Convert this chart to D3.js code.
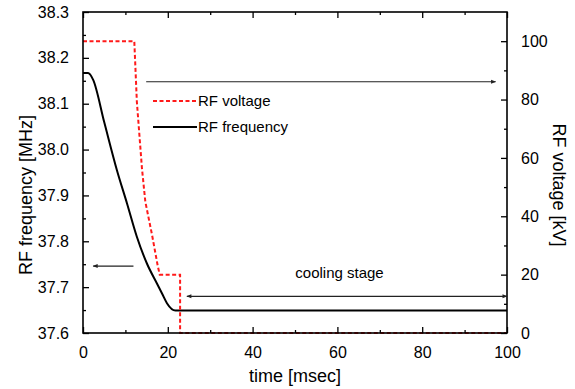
<!DOCTYPE html>
<html>
<head>
<meta charset="utf-8">
<script src="https://cdn.jsdelivr.net/npm/d3@7"></script>
<style>
	body { margin: 0; background: #fff; }
	text { font-family: "Liberation Sans", Arial, sans-serif; fill: #000; }
</style>
</head>
<body>
<div id="plot"></div>
<script>
//Data
const freqTime = [0, 1.2, 2.4, 5, 8, 10.4, 12.7, 15.1, 17.5, 18.7, 19.8, 21.8, 100];
const freqMHz = [38.167, 38.167, 38.152, 38.06, 37.955, 37.882, 37.81, 37.751, 37.707, 37.685, 37.665, 37.649, 37.649];

const voltTime = [0, 12.1, 12.7, 13.9, 14.7, 16.3, 17.6, 18.1, 22.9, 22.9, 100];
const voltKV = [100, 100, 79.3, 56.5, 45, 33.5, 23.2, 20, 20, 0, 0];

const timeTicks = [0, 20, 40, 60, 80, 100];
const timeMinor = [10, 30, 50, 70, 90];
const freqTicks = [37.6, 37.7, 37.8, 37.9, 38.0, 38.1, 38.2, 38.3];
const freqMinor = [37.65, 37.75, 37.85, 37.95, 38.05, 38.15, 38.25];
const voltTicks = [0, 20, 40, 60, 80, 100];
const voltMinor = [10, 30, 50, 70, 90];

const legendLabels = ['RF voltage', 'RF frequency'];

//Prepare DOM canvas
const w = 575, h = 389;
const m = {t: 12, r: 68, b: 56, l: 83};
const svg = d3.select('#plot').append('svg').attr('width', w).attr('height', h);

const x = d3.scaleLinear().domain([0, 100]).range([m.l, w - m.r]);
const yF = d3.scaleLinear().domain([37.6, 38.3]).range([h - m.b, m.t]);
const yV = d3.scaleLinear().domain([0, 110]).range([h - m.b, m.t]);

const defs = svg.append('defs');
defs.append('marker').attr('id', 'head')
	.attr('viewBox', '0 0 10 10').attr('refX', 9).attr('refY', 5)
	.attr('markerWidth', 8).attr('markerHeight', 5).attr('orient', 'auto-start-reverse')
	.attr('markerUnits', 'userSpaceOnUse')
	.append('path').attr('d', 'M0,1 L10,5 L0,9 Z').attr('fill', '#222');

//Curves
const freqData = freqTime.map((t, i) => ({t, v: freqMHz[i]}));
const voltData = voltTime.map((t, i) => ({t, v: voltKV[i]}));

svg.append('path').datum(freqData)
	.attr('d', d3.line().x(d => x(d.t)).y(d => yF(d.v)).curve(d3.curveMonotoneX))
	.style('fill', 'none').style('stroke', '#000').style('stroke-width', '2px');

svg.append('path').datum(voltData)
	.attr('d', d3.line().x(d => x(d.t)).y(d => yV(d.v)))
	.style('fill', 'none').style('stroke', '#ff1a1a').style('stroke-width', '2px')
	.style('stroke-dasharray', '4,2.5');

//Axes, ticks inside
function axis(gen, transform, size, labels){
	const g = svg.append('g').attr('transform', transform)
		.call(gen.tickSize(size).tickPadding(size < 0 ? 8 - size : 5));
	g.select('.domain').remove();
	g.selectAll('line').style('stroke', '#000').style('stroke-width', '1.3px');
	g.selectAll('text').style('font-size', '16px');
	if(!labels) g.selectAll('text').remove();
	return g;
}
const fmt1 = d3.format('.1f');
axis(d3.axisBottom(x).tickValues(timeTicks).tickFormat(d3.format('d')), `translate(0,${h - m.b})`, -6, true);
axis(d3.axisBottom(x).tickValues(timeMinor), `translate(0,${h - m.b})`, -3, false);
axis(d3.axisTop(x).tickValues(timeTicks), `translate(0,${m.t})`, -6, false);
axis(d3.axisTop(x).tickValues(timeMinor), `translate(0,${m.t})`, -3, false);
axis(d3.axisLeft(yF).tickValues(freqTicks).tickFormat(fmt1), `translate(${m.l},0)`, -6, true);
axis(d3.axisLeft(yF).tickValues(freqMinor), `translate(${m.l},0)`, -3, false);
axis(d3.axisRight(yV).tickValues(voltTicks).tickFormat(d3.format('d')), `translate(${w - m.r},0)`, -6, true);
axis(d3.axisRight(yV).tickValues(voltMinor), `translate(${w - m.r},0)`, -3, false);

svg.append('rect')
	.attr('x', m.l).attr('y', m.t)
	.attr('width', w - m.l - m.r).attr('height', h - m.t - m.b)
	.style('fill', 'none').style('stroke', '#000').style('stroke-width', '1.6px');

//Axis titles
svg.append('text').attr('x', x(50)).attr('y', 382)
	.attr('text-anchor', 'middle').style('font-size', '18px').text('time [msec]');
svg.append('text').attr('transform', 'translate(32,195) rotate(-90)')
	.attr('text-anchor', 'middle').style('font-size', '18px').text('RF frequency [MHz]');
svg.append('text').attr('transform', 'translate(553,185) rotate(90)')
	.attr('text-anchor', 'middle').style('font-size', '18px').text('RF voltage [kV]');

//Legend
const leg = svg.append('g');
legendLabels.forEach((lab, i) => {
	const yy = 101 + i * 26;
	leg.append('line').attr('x1', 153).attr('x2', 197).attr('y1', yy).attr('y2', yy)
		.style('stroke', i === 0 ? '#ff1a1a' : '#000').style('stroke-width', '2px')
		.style('stroke-dasharray', i === 0 ? '4,2.5' : null);
	leg.append('text').attr('x', 198).attr('y', yy + 5).style('font-size', '15px').text(lab);
});

//Arrows pointing to the axes + cooling stage
function arrow(x1, y1, x2, y2, both){
	const l = svg.append('line').attr('x1', x1).attr('y1', y1).attr('x2', x2).attr('y2', y2)
		.style('stroke', '#222').style('stroke-width', '1.2px')
		.attr('marker-end', 'url(#head)');
	if(both) l.attr('marker-start', 'url(#head)');
}
arrow(x(14.9), yV(86.1), x(97.3), yV(86.1), false);
arrow(x(11.9), yF(37.746), x(2.4), yF(37.746), false);
arrow(x(24.5), yF(37.68), x(100), yF(37.68), true);

svg.append('text').attr('x', x(60.5)).attr('y', 278)
	.attr('text-anchor', 'middle').style('font-size', '15px').text('cooling stage');
</script>
</body>
</html>
